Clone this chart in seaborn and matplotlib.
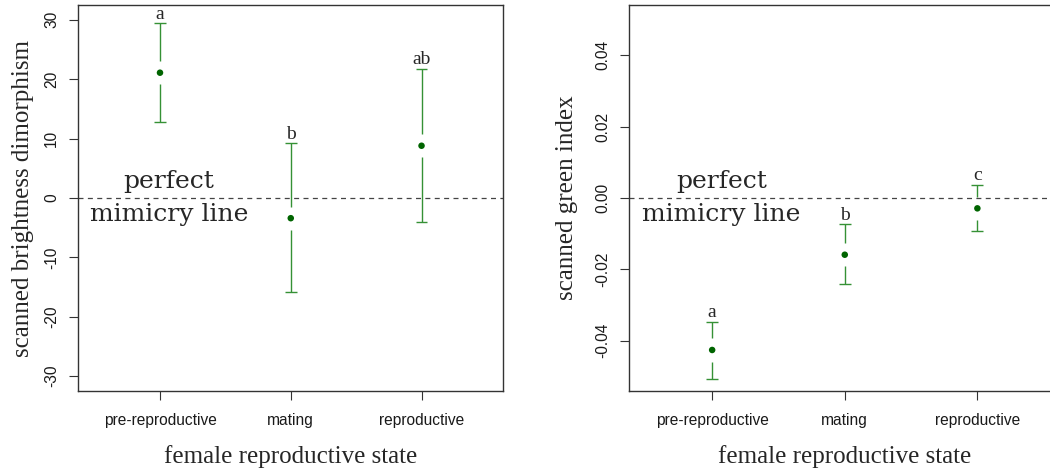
import seaborn as sns
import pandas as pd
import matplotlib.pyplot as plt

# data
states = ['pre-reproductive', 'mating', 'reproductive']

bright_mean = [21.1, -3.4, 8.8]
bright_low = [12.8, -15.9, -4.0]
bright_high = [29.4, 9.2, 21.8]
bright_letters = ['a', 'b', 'ab']

green_mean = [-0.0426, -0.0159, -0.0029]
green_low = [-0.0507, -0.0242, -0.0092]
green_high = [-0.0347, -0.0074, 0.0037]
green_letters = ['a', 'b', 'c']

sns.set_style('white')
plt.rcParams['font.family'] = ['Liberation Sans', 'DejaVu Sans']

fig = plt.figure(figsize=(10.5, 4.73), dpi=100)
ax1 = fig.add_axes([78 / 1050, 82 / 473, 425 / 1050, 386 / 473])
ax2 = fig.add_axes([629 / 1050, 82 / 473, 431 / 1050, 386 / 473])

serif = 'Liberation Serif'


def panel(ax, mean, low, high, letters, ylim, yticks, ylabel, ylab_x):
    df = pd.DataFrame({'state': states, 'mean': mean, 'low': low, 'high': high})
    ax.set_xlim(-0.627, 2.623)
    ax.set_ylim(*ylim)
    gap = 0.03 * (ylim[1] - ylim[0])
    xs = list(range(len(states)))
    # error bars with a gap around the point (plotCI style)
    ax.vlines(xs, df['mean'] + gap, df['high'], color='#359135', lw=1.0)
    ax.vlines(xs, df['low'], df['mean'] - gap, color='#359135', lw=1.0)
    ax.hlines(df['high'], [x - 0.045 for x in xs], [x + 0.045 for x in xs], color='#359135', lw=1.0)
    ax.hlines(df['low'], [x - 0.045 for x in xs], [x + 0.045 for x in xs], color='#359135', lw=1.0)
    sns.scatterplot(data=df, x='state', y='mean', ax=ax, color='#006400', s=22,
                    edgecolor='none', zorder=3)
    ax.set_xlim(-0.627, 2.623)
    ax.axhline(0, color='#444444', lw=0.9, dashes=(4, 3.5))
    for x, h, lab in zip(xs, df['high'], letters):
        ax.annotate(lab, (x, h), xytext=(0, 3.5), textcoords='offset points',
                    ha='center', va='baseline', fontsize=14, family=serif)
    ax.text(0.07, 0, 'perfect\nmimicry line', ha='center', va='center',
            fontsize=18, family='DejaVu Serif', linespacing=1.6)

    ax.set_yticks(yticks)
    ax.set_xticks(xs)
    ax.set_xticklabels(states)
    ax.tick_params(axis='both', direction='out', length=6.5, width=0.8,
                   color='#333333', labelsize=11.2, labelcolor='#1a1a1a', left=True, bottom=True)
    ax.tick_params(axis='y', pad=7)
    ax.tick_params(axis='x', pad=9)
    for s in ax.spines.values():
        s.set_color('#333333')
        s.set_linewidth(1.0)

    ax.set_xlabel('female reproductive state', fontsize=18, family=serif)
    ax.set_ylabel(ylabel, fontsize=18, family=serif)
    ax.xaxis.set_label_coords(0.5, -0.171)
    ax.xaxis.label.set_va('center')
    ax.yaxis.set_label_coords(ylab_x, 0.5)
    ax.yaxis.label.set_va('center')


panel(ax1, bright_mean, bright_low, bright_high, bright_letters,
      (-32.5, 32.5), [-30, -20, -10, 0, 10, 20, 30],
      'scanned brightness dimorphism', -0.129)
ax1.set_yticklabels(['-30', '-20', '-10', '0', '10', '20', '30'])
plt.setp(ax1.get_yticklabels(), rotation=90, va='center')

panel(ax2, green_mean, green_low, green_high, green_letters,
      (-0.0541, 0.0541), [-0.04, -0.02, 0.0, 0.02, 0.04],
      'scanned green index', -0.145)
ax2.set_yticklabels(['-0.04', '-0.02', '0.00', '0.02', '0.04'])
plt.setp(ax2.get_yticklabels(), rotation=90, va='center')

fig.savefig('out.png', dpi=100)
